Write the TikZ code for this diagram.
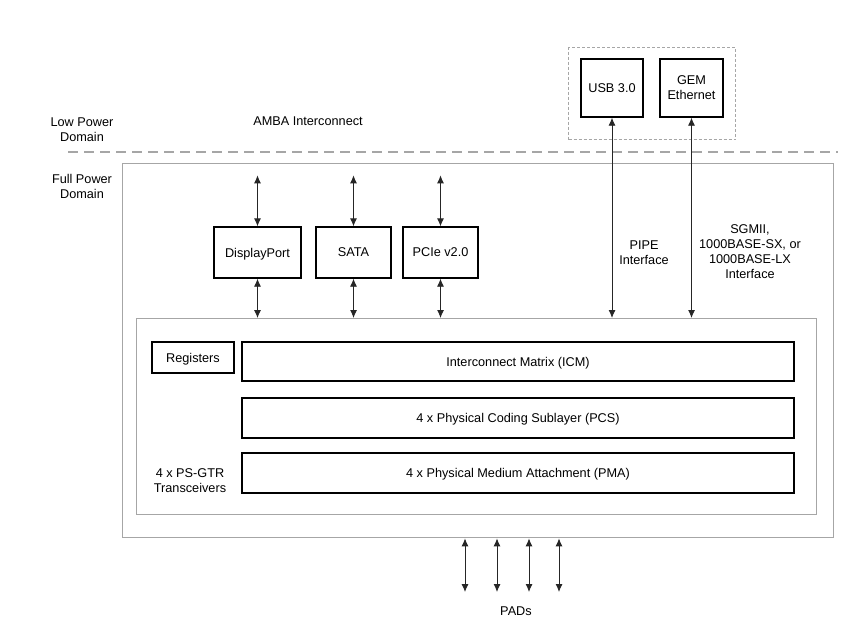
\documentclass[tikz,border=0pt]{standalone}
\usepackage{fontspec}
\setmainfont{Liberation Sans}
\usetikzlibrary{calc,arrows.meta}

\tikzset{
  blk/.style={draw,line width=1.4pt,fill=white,align=center,inner sep=0pt,text depth=0pt},
  grayframe/.style={draw=gray!70,line width=1.4pt,anchor=north west},
  link/.style={{Latex[length=8pt,width=7pt]}-{Latex[length=8pt,width=7pt]},line width=0.9pt,black!85},
  lbl/.style={align=center,inner sep=0pt}
}

\begin{document}
\begin{tikzpicture}[x=1pt,y=-1pt,font=\fontsize{12.7}{15}\selectfont]
\useasboundingbox (0,0) rectangle (867,621);

% domains
\draw[gray!70,line width=2pt,dash pattern=on 10pt off 6pt] (68,152) -- (838,152);
\node[lbl] (lowpd) at (82,130) {Low Power\\Domain};
\node[lbl] (fullpd) at (82,186) {Full Power\\Domain};
\node[lbl] (amba) at (308,121) {AMBA Interconnect};

% frames
\node[grayframe,minimum width=711pt,minimum height=374pt] (full) at (122,163) {};
\node[grayframe,minimum width=680pt,minimum height=196pt] (gtr) at (136,318) {};
\node[draw=gray!70,line width=1pt,dash pattern=on 3pt off 2pt,
      minimum width=167pt,minimum height=92pt,anchor=north west] (lowbox) at (568,47) {};

% controllers
\node[blk,minimum width=87pt,minimum height=51pt] (dp) at (257.5,252.5) {DisplayPort};
\node[blk,minimum width=75pt,minimum height=51pt] (sata) at (353.5,252.5) {SATA};
\node[blk,minimum width=75pt,minimum height=51pt] (pcie) at (440.5,252.5) {PCIe v2.0};
\node[blk,minimum width=62pt,minimum height=58pt] (usb) at (612,88) {USB 3.0};
\node[blk,minimum width=63pt,minimum height=58pt] (gem) at (691.5,88) {GEM\\Ethernet};

% transceiver
\node[blk,minimum width=82pt,minimum height=31pt] (regs) at (193,357.5) {Registers};
\node[blk,minimum width=552pt,minimum height=39pt] (icm) at (518,361.5) {Interconnect Matrix (ICM)};
\node[blk,minimum width=552pt,minimum height=40pt] (pcs) at (518,418) {4 x Physical Coding Sublayer (PCS)};
\node[blk,minimum width=552pt,minimum height=40pt] (pma) at (518,473) {4 x Physical Medium Attachment (PMA)};
\node[lbl] (xcvr) at (190,480.5) {4 x PS-GTR\\Transceivers};

% links
\foreach \c in {dp,sata,pcie}
	{
	\coordinate (\c-in) at ([yshift=51pt]\c.north);
	\draw[link] (\c-in) -- (\c.north);
	\draw[link] (\c.south) -- (\c.south |- gtr.north);
	}
\foreach \c in {usb,gem}
	{
	\draw[link] (\c.south) -- (\c.south |- gtr.north);
	}
\node[lbl] (pipe) at (644,252.5) {PIPE\\Interface};
\node[lbl] (sgmii) at (750,251.5) {SGMII,\\1000BASE-SX, or\\1000BASE-LX\\Interface};

% pads
\foreach \x [count=\i] in {465,497,529,559}
	{
	\coordinate (pad\i) at (\x,592);
	\draw[link] (pad\i |- full.south) -- (pad\i);
	}
\node[lbl] (pads) at (516,611) {PADs};
\end{tikzpicture}
\end{document}
